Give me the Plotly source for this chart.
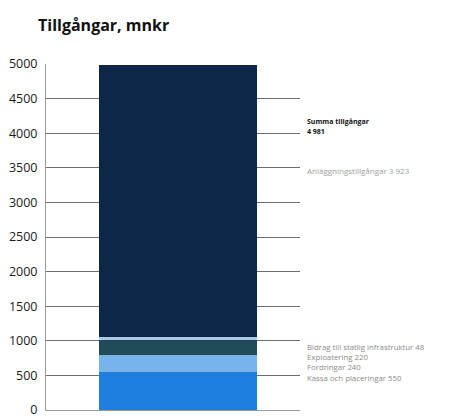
import plotly.graph_objects as go

title = "Tillgångar, mnkr"
segments = ["Kassa och placeringar", "Fordringar", "Exploatering",
            "Bidrag till statlig infrastruktur", "Anläggningstillgångar"]
values = [550, 240, 220, 48, 3923]
colors = ["#1f7fdf", "#78b4ec", "#1f4c58", "#a9cbe6", "#0c2747"]
total_label = "Summa tillgångar"
total_value = 4981
yticks = [0, 500, 1000, 1500, 2000, 2500, 3000, 3500, 4000, 4500, 5000]

fig = go.Figure()
for name, v, c in zip(segments, values, colors):
    fig.add_trace(go.Bar(x=[0.52], y=[v], width=0.62, name=name,
                         marker=dict(color=c, line=dict(width=0)),
                         showlegend=False, hoverinfo="name+y"))

def fmt(v):
    return f"{v:,}".replace(",", " ")

annots = []
annots.append(dict(x=1.02, y=4170, xref="paper", yref="y", xanchor="left", yanchor="middle",
                   text=f"<b>{total_label}</b>", showarrow=False,
                   font=dict(size=7, color="#111")))
annots.append(dict(x=1.02, y=4020, xref="paper", yref="y", xanchor="left", yanchor="middle",
                   text=f"<b>{fmt(total_value)}</b>", showarrow=False,
                   font=dict(size=7, color="#111")))
annots.append(dict(x=1.02, y=3455, xref="paper", yref="y", xanchor="left", yanchor="middle",
                   text=f"{segments[4]} {fmt(values[4])}", showarrow=False,
                   font=dict(size=8, color="#a0a0a0")))
label_ys = [462, 618, 766, 910]
for i, ly in enumerate(label_ys):
    annots.append(dict(x=1.02, y=ly, xref="paper", yref="y", xanchor="left", yanchor="middle",
                       text=f"{segments[i]} {fmt(values[i])}", showarrow=False,
                       font=dict(size=7.8, color="#8a8a8a")))

fig.update_layout(
    barmode="stack",
    width=457, height=418,
    margin=dict(l=38, r=165, t=56, b=16, autoexpand=False),
    paper_bgcolor="white", plot_bgcolor="white",
    font=dict(family="Open Sans, Liberation Sans, sans-serif", color="#222"),
    title=dict(text=f"<b>{title}</b>", x=30 / 457, xref="container", xanchor="left",
               y=1 - 17 / 418, yref="container", yanchor="middle",
               font=dict(size=16, color="#111")),
    annotations=annots,
    bargap=0,
    xaxis=dict(range=[0, 1], showticklabels=False, showgrid=False, zeroline=False,
               showline=True, linecolor="#9a9a9a", linewidth=1, fixedrange=True,
               automargin=False),
    yaxis=dict(range=[0, 5000], tickvals=yticks, ticktext=[str(t) for t in yticks],
               showgrid=True, gridcolor="#6e6e6e", gridwidth=1, zeroline=False,
               showline=True, linecolor="#9a9a9a", linewidth=1, automargin=False,
               tickfont=dict(size=12.5, color="#1a1a1a"), ticks="", ticklabelstandoff=5),
)

fig.write_html("out.html")
